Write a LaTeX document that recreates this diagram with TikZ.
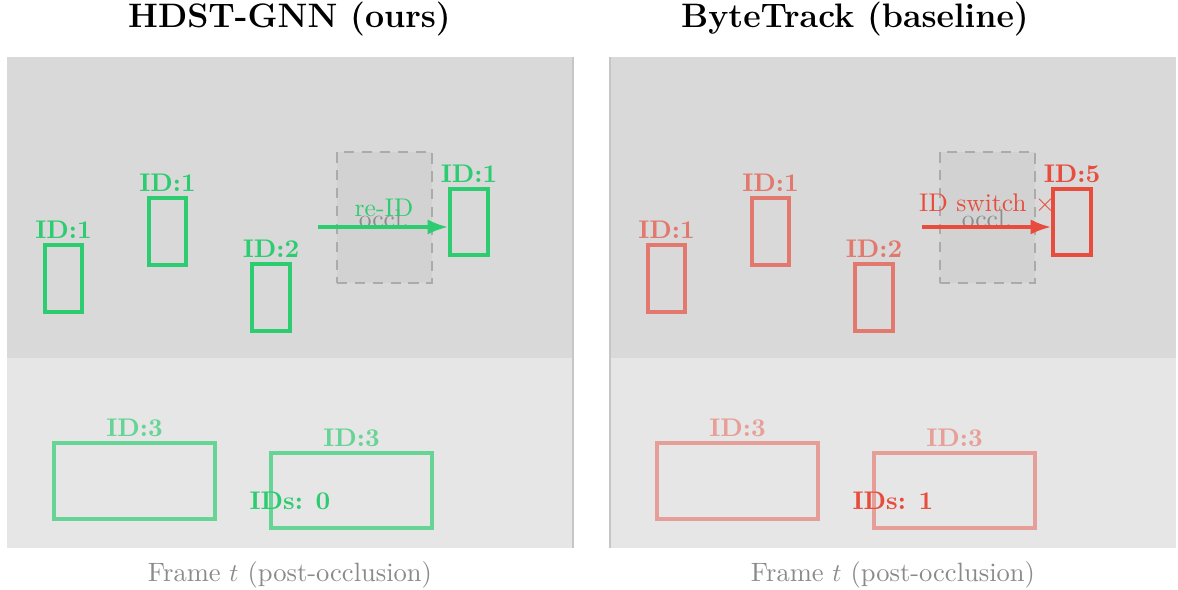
\documentclass[tikz,border=0pt]{standalone}
\usetikzlibrary{arrows.meta}
\definecolor{tgreen}{HTML}{2ECC71}
\definecolor{tred}{HTML}{E74C3C}
\definecolor{topbg}{HTML}{D9D9D9}
\definecolor{botbg}{HTML}{E6E6E6}
\definecolor{occfill}{HTML}{D2D2D2}
\definecolor{occline}{HTML}{ABABAB}
\definecolor{capgray}{HTML}{8A8A8A}
\def\u{0.392pt}
\tikzset{
  trk/.style n args={3}{draw=#1, line width=1.35pt, inner sep=0pt,
    minimum width=#2*\u, minimum height=#3*\u},
  idlbl/.style={font=\bfseries, inner sep=1.5pt, anchor=south},
  occbox/.style n args={2}{draw=occline, fill=occfill, dashed, line width=0.6pt,
    dash pattern=on 4pt off 3pt, inner sep=0pt, minimum width=#1*\u, minimum height=#2*\u},
  jump/.style={line width=1.2pt, -{Latex[length=8pt,width=6pt]}},
  ttl/.style={font=\fontsize{13.3}{16}\selectfont\bfseries},
  captxt/.style={text=capgray, font=\fontsize{10.4}{12.5}\selectfont},
  edge/.style={gray!45, line width=0.45pt},
}
\begin{document}
\begin{tikzpicture}[x=\u, y=-\u]
\useasboundingbox (0,0) rectangle (1178,590);

% ---------- left panel: HDST-GNN ----------
\fill[topbg] (7,57) rectangle (573,358);
\fill[botbg] (7,358) rectangle (573,548);
\draw[edge] (573,57) -- (573,548);
\node[ttl] (tl) at (289.5,19) {HDST-GNN (ours)};
\node[captxt] (cl) at (290,575) {Frame $t$ (post-occlusion)};

\node[occbox={95}{131}] (ol) at (384.5,217.5) {};
\node[text=gray!90] (oltxt) at (384,219) {occl.};

\node[trk={tgreen}{37}{67}] (a1) at (63.5,278.5) {};
\node[idlbl, text=tgreen] at (a1.north) {ID:1};
\node[trk={tgreen}{37}{67}] (b1) at (167.5,231.5) {};
\node[idlbl, text=tgreen] at (b1.north) {ID:1};
\node[trk={tgreen}{38}{67}] (c1) at (271,297.5) {};
\node[idlbl, text=tgreen] at (c1.north) {ID:2};
\node[trk={tgreen}{38}{66}, line width=1.6pt] (d1) at (469,222) {};
\node[idlbl, text=tgreen] at (d1.north) {ID:1};

\coordinate (sl) at (318,227);
\draw[jump, tgreen] (sl) -- (sl -| d1.west);
\node[text=tgreen] (reid) at (384,208) {re-ID};

\node[trk={tgreen!70!botbg}{161}{76}] (e1) at (134.5,481) {};
\node[idlbl, text=tgreen!70!botbg] at (e1.north) {ID:3};
\node[trk={tgreen!70!botbg}{161}{75}] (f1) at (351.5,490.5) {};
\node[idlbl, text=tgreen!70!botbg] at (f1.north) {ID:3};
\node[font=\bfseries, text=tgreen] (sw1) at (290,501) {IDs:\enspace0};

% ---------- right panel: ByteTrack ----------
\fill[topbg] (610,57) rectangle (1176,358);
\fill[botbg] (610,358) rectangle (1176,548);
\draw[edge] (610,57) -- (610,548);
\node[ttl] (tr) at (855,19) {ByteTrack (baseline)};
\node[captxt] (cr) at (893,575) {Frame $t$ (post-occlusion)};

\node[occbox={95}{131}] (or) at (987.5,217.5) {};
\node[text=gray!90] (ortxt) at (987,219) {occl.};

\node[trk={tred!68!topbg}{37}{67}] (a2) at (666.5,278.5) {};
\node[idlbl, text=tred!68!topbg] at (a2.north) {ID:1};
\node[trk={tred!68!topbg}{37}{67}] (b2) at (770.5,231.5) {};
\node[idlbl, text=tred!68!topbg] at (b2.north) {ID:1};
\node[trk={tred!68!topbg}{38}{67}] (c2) at (874,297.5) {};
\node[idlbl, text=tred!68!topbg] at (c2.north) {ID:2};
\node[trk={tred}{38}{66}, line width=1.6pt] (d2) at (1072,222) {};
\node[idlbl, text=tred] at (d2.north) {ID:5};

\coordinate (sr) at (922,227);
\draw[jump, tred] (sr) -- (sr -| d2.west);
\node[text=tred] (swtxt) at (987,204) {ID switch $\times$};

\node[trk={tred!46!botbg}{161}{76}] (e2) at (737.5,481) {};
\node[idlbl, text=tred!46!botbg] at (e2.north) {ID:3};
\node[trk={tred!46!botbg}{161}{75}] (f2) at (954.5,490.5) {};
\node[idlbl, text=tred!46!botbg] at (f2.north) {ID:3};
\node[font=\bfseries, text=tred] (sw2) at (893,501) {IDs:\enspace1};
\end{tikzpicture}
\end{document}
